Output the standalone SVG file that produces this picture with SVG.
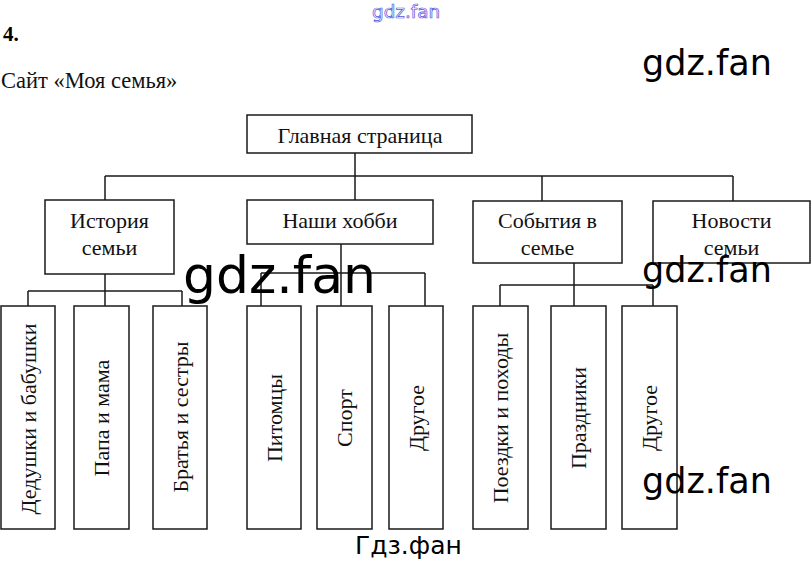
<svg xmlns="http://www.w3.org/2000/svg" width="811" height="564" viewBox="0 0 811 564">
<style>
.box{fill:#fff;stroke:#1a1a1a;stroke-width:1.5}
.ln{stroke:#1a1a1a;stroke-width:1.5;fill:none}
.t{font-family:"Liberation Serif","Times New Roman",serif;font-size:22px;fill:#111;text-anchor:middle}
.v{font-family:"Liberation Serif","Times New Roman",serif;font-size:22px;fill:#111;text-anchor:middle}
.wm{font-family:"DejaVu Sans",Verdana,sans-serif;fill:#000}
</style>
<rect width="811" height="564" fill="#fff"/>
<text x="3" y="41" style="font-family:'Liberation Serif',serif;font-size:21px;font-weight:bold">4.</text>
<text x="1" y="88" style="font-family:'Liberation Serif',serif;font-size:22.5px" fill="#111">Сайт «Моя семья»</text>

<g id="connectors">
<path class="ln" d="M105 176H733M355 153V200M105 176V200M542 176V201M733 176V201"/>
<path class="ln" d="M105 274V291M28 291H182M28 291V306M105 291V306M182 291V306"/>
<path class="ln" d="M341 244V306M261 273H425M261 273V306M425 273V306"/>
<path class="ln" d="M574 263V306M500 285H653M500 285V306M653 285V306"/>
</g>

<g id="main"><rect class="box" x="247" y="115" width="225" height="38"/><text class="t" x="360" y="143">Главная страница</text></g>
<g id="history"><rect class="box" x="45" y="200" width="129" height="74"/><text class="t" x="109.5" y="228">История</text><text class="t" x="109.5" y="255">семьи</text></g>
<g id="hobby"><rect class="box" x="247" y="200" width="186" height="44"/><text class="t" x="340" y="228">Наши хобби</text></g>
<g id="events"><rect class="box" x="473" y="201" width="149" height="62"/><text class="t" x="547.5" y="228">События в</text><text class="t" x="547.5" y="255">семье</text></g>
<g id="news"><rect class="box" x="653" y="201" width="157" height="62"/><text class="t" x="731.5" y="228">Новости</text><text class="t" x="731.5" y="255">семьи</text></g>

<g id="c1"><rect class="box" x="1" y="306" width="54" height="223"/><text class="v" transform="translate(36 419) rotate(-90)">Дедушки и бабушки</text></g>
<g id="c2"><rect class="box" x="74" y="306" width="55" height="223"/><text class="v" transform="translate(109 418) rotate(-90)">Папа и мама</text></g>
<g id="c3"><rect class="box" x="153" y="306" width="54" height="223"/><text class="v" transform="translate(188 417) rotate(-90)">Братья и сестры</text></g>
<g id="c4"><rect class="box" x="247" y="306" width="54" height="223"/><text class="v" transform="translate(282 418) rotate(-90)">Питомцы</text></g>
<g id="c5"><rect class="box" x="317" y="306" width="55" height="223"/><text class="v" transform="translate(352 418) rotate(-90)">Спорт</text></g>
<g id="c6"><rect class="box" x="389" y="306" width="54" height="223"/><text class="v" transform="translate(424 418) rotate(-90)">Другое</text></g>
<g id="c7"><rect class="box" x="473" y="306" width="55" height="223"/><text class="v" transform="translate(508 418) rotate(-90)">Поездки и походы</text></g>
<g id="c8"><rect class="box" x="551" y="306" width="55" height="223"/><text class="v" transform="translate(586 418) rotate(-90)">Праздники</text></g>
<g id="c9"><rect class="box" x="622" y="306" width="55" height="223"/><text class="v" transform="translate(657 418) rotate(-90)">Другое</text></g>

<text x="372" y="18" textLength="68" lengthAdjust="spacingAndGlyphs" style="font-family:'DejaVu Sans',sans-serif;font-size:18px;fill:none;stroke:#5555dd;stroke-width:0.7">gdz.fan</text>
<text class="wm" x="642" y="75" style="font-size:35px">gdz.fan</text>
<text class="wm" x="183" y="293" style="font-size:52px">gdz.fan</text>
<text class="wm" x="642" y="282" style="font-size:35px">gdz.fan</text>
<text class="wm" x="642" y="493" style="font-size:35px">gdz.fan</text>
<text class="wm" x="355" y="554" style="font-size:25px">Гдз.фан</text>
</svg>
